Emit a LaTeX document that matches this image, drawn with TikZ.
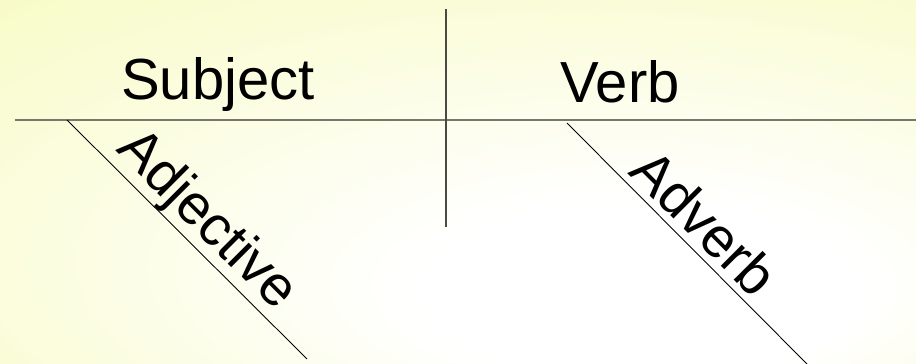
\documentclass[tikz,border=0pt]{standalone}
\usepackage{fontspec}
\setmainfont{Liberation Sans}
\usepackage{tikz}
\usetikzlibrary{positioning}
\definecolor{bgyellow}{HTML}{F2F896}
\definecolor{mainline}{HTML}{77786A}
\definecolor{splitline}{HTML}{4A4A42}
\pgfdeclareradialshading{slidebg}{\pgfpoint{12bp}{-18bp}}{%
  color(0bp)=(white); color(12bp)=(white); color(72bp)=(bgyellow)}

\begin{document}
\begin{tikzpicture}[
  x=0.02cm, y=-0.02cm,
  word/.style={font=\fontsize{33}{39}\selectfont, inner sep=0pt},
  slantword/.style={font=\fontsize{32}{38}\selectfont, inner sep=0pt, rotate=-45},
  base/.style={draw=mainline, line width=1.1pt},
  split/.style={draw=splitline, line width=1pt},
  slant/.style={draw=black, line width=0.5pt}
]
  % background
  \useasboundingbox (0,0) rectangle (916,364);
  \fill[shading=slidebg] (0,0) rectangle (916,364);

  % main line and divider
  \coordinate (baseL) at (15,120);
  \coordinate (baseR) at (916,120);
  \coordinate (divT) at (446,9);
  \coordinate (divB) at (446,227);
  \draw[base] (baseL) -- (baseR);
  \draw[split] (divT) -- (divB);

  % words on the main line
  \node[word, anchor=base] (subj) at (218,100) {Subject};
  \node[word, anchor=base] (verb) at (620,103) {Verb};

  % modifiers
  \coordinate (adjT) at (67,120);
  \coordinate (adjB) at (307,359);
  \coordinate (advT) at (567,123);
  \coordinate (advB) at (807,364);
  \draw[slant] (adjT) -- (adjB);
  \draw[slant] (advT) -- (advB);
  \node[slantword] (adj) at (206,221) {Adjective};
  \node[slantword] (adv) at (705,222) {Adverb};
\end{tikzpicture}
\end{document}
